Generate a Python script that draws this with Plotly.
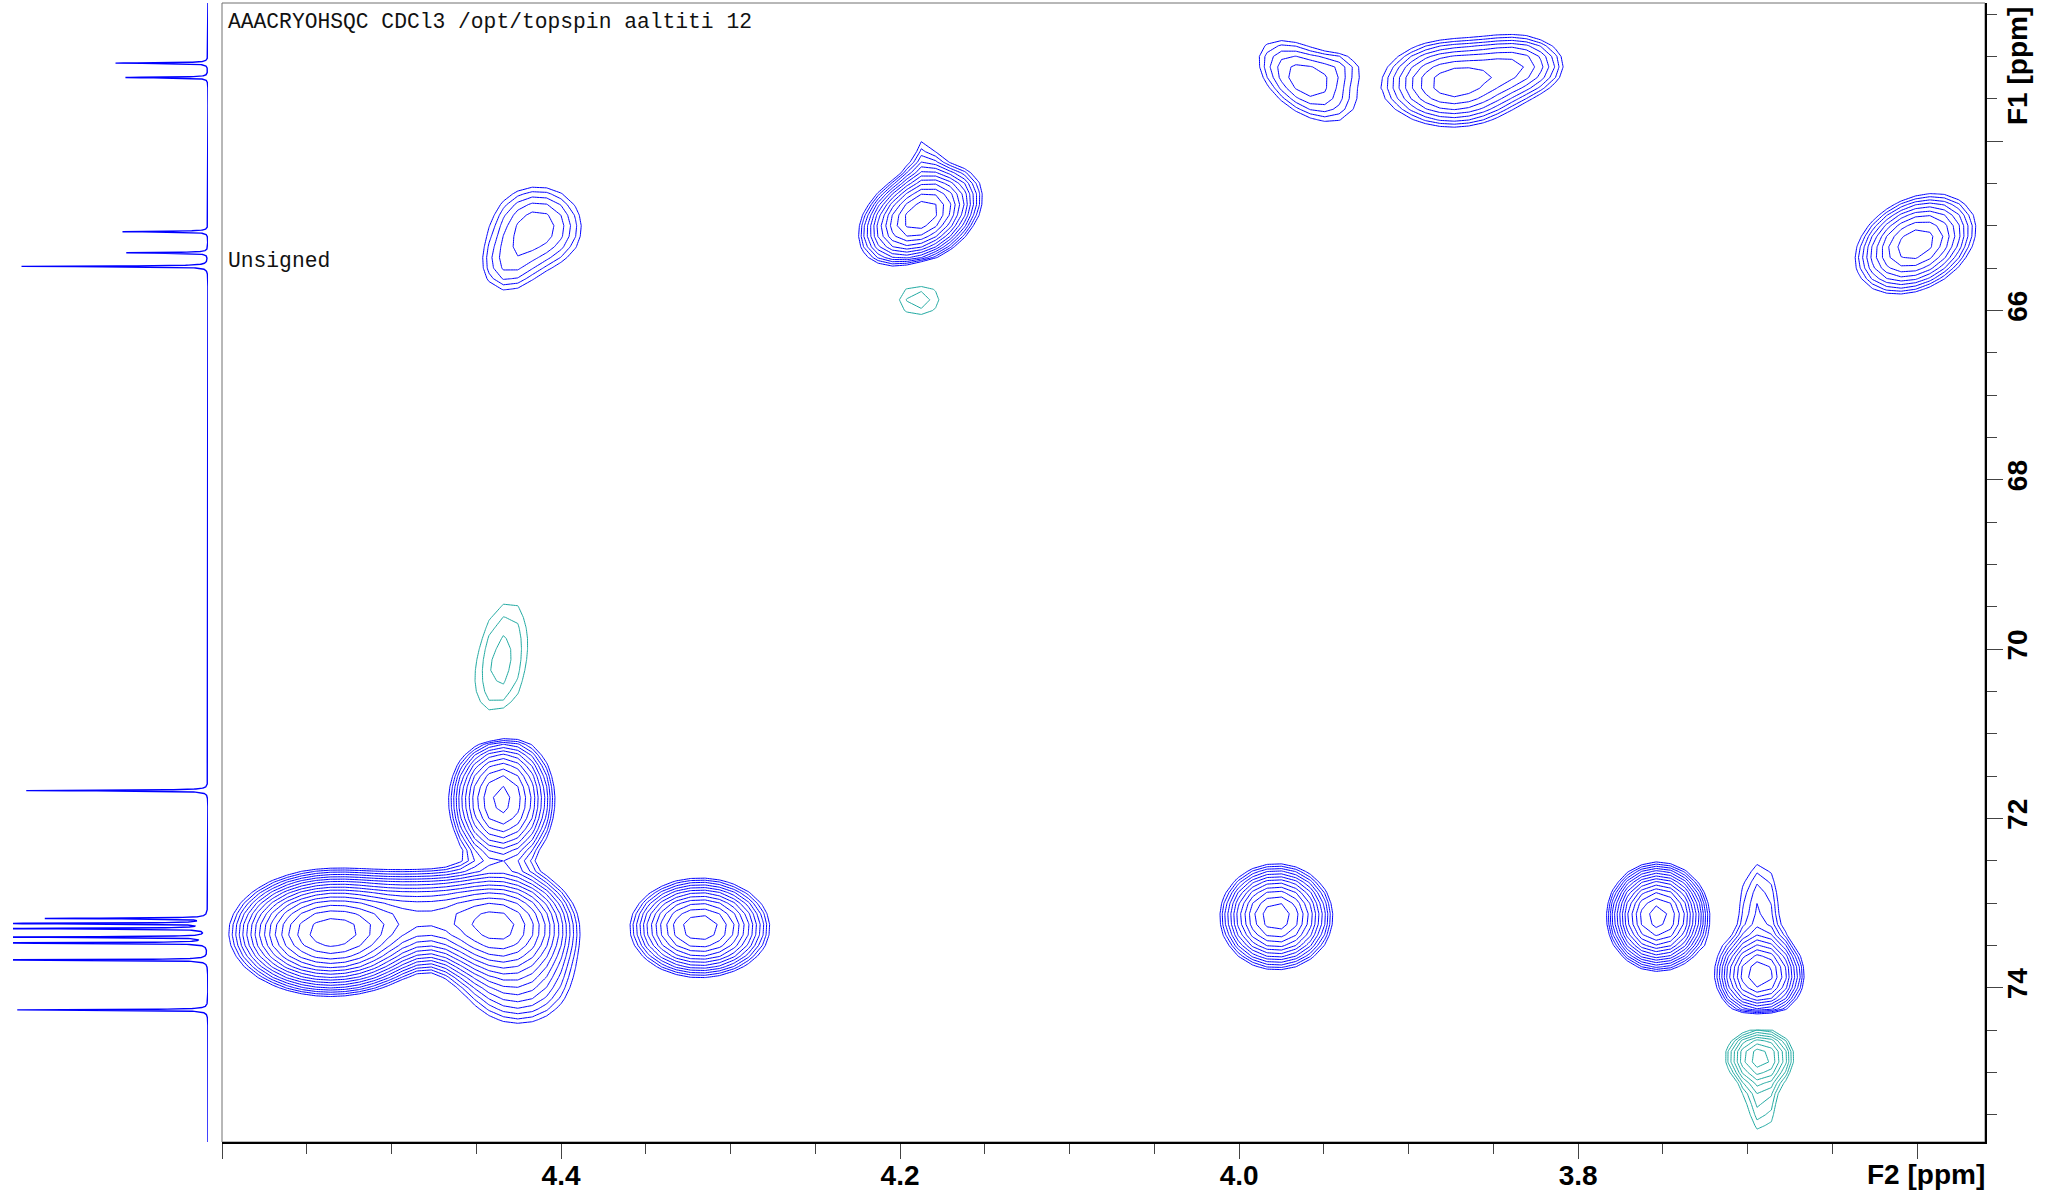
import numpy as np
import plotly.graph_objects as go

# ---- 2D HSQC cross peaks (F2 = 1H ppm, F1 = 13C ppm) ----
# centre, gaussian widths, signed amplitude (contour base level = 1), tilt
PEAK_F2 = [3.961, 3.940, 3.874, 3.835, 4.414, 4.433, 4.188, 4.186, 3.601,
           4.189, 4.435,
           4.536, 4.435, 4.436, 4.425, 4.480,
           4.318, 3.978, 3.753, 3.693, 3.693, 3.693, 3.692]
PEAK_F1 = [63.29, 63.10, 63.32, 63.10, 65.02, 65.50, 64.885, 64.30, 65.215,
           65.87, 70.145,
           73.35, 71.78, 73.28, 73.90, 73.15,
           73.29, 73.16, 73.16, 73.85, 73.10, 74.81, 75.20]
PEAK_SD2 = [0.019, 0.010, 0.022, 0.017, 0.018, 0.012, 0.016, 0.007, 0.018,
            0.0144, 0.015,
            0.0227, 0.014, 0.019, 0.020, 0.028,
            0.018, 0.0146, 0.0124, 0.0121, 0.010, 0.0115, 0.009]
PEAK_SD1 = [0.33, 0.15, 0.28, 0.22, 0.33, 0.25, 0.27, 0.35, 0.30,
            0.22, 0.66,
            0.285, 0.36, 0.30, 0.35, 0.25,
            0.257, 0.274, 0.263, 0.233, 0.48, 0.18, 0.45]
PEAK_AMP = [2.9, 1.0, 5.6, 3.2, 2.9, 1.5, 14.0, 1.4, 7.2,
            -1.45, -1.75,
            33.0, 13.0, 18.0, 3.0, 10.0,
            14.0, 14.0, 21.0, 11.0, 2.0, -4.5, -1.8]
PEAK_TILT = [-0.5, 0.0, 0.0, 0.0, 0.0, 0.0, 0.35, 0.0, 0.3,
             0.0, 0.3,
             0.0, 0.0, 0.0, 0.0, 0.0,
             0.0, 0.0, 0.0, 0.0, 0.0, 0.0, 0.0]

# ---- 13C projection shown beside the F1 axis ----
PROJ_PPM = [63.08, 63.25, 65.07, 65.32, 65.48, 71.67, 73.18, 73.24, 73.30,
            73.40, 73.47, 73.67, 74.26]
PROJ_INT = [0.477, 0.423, 0.441, 0.418, 0.962, 0.938, 0.826, 1.15, 1.15,
            1.15, 1.15, 1.15, 0.978]
PROJ_LW = 0.005

# ---- axes ----
F2_RANGE = [4.6, 3.56]
F1_RANGE = [75.82, 62.37]
F2_TICKS = [4.6, 4.4, 4.2, 4.0, 3.8, 3.6]
F2_LABELS = ["", "4.4", "4.2", "4.0", "3.8", ""]
F1_TICKS = [64, 66, 68, 70, 72, 74]
F1_LABELS = ["", "66", "68", "70", "72", "74"]

LEVEL_FACTOR = 1.25
N_LEVELS = 20

# spectrum grid (digital resolution of the processed 2D data)
f2 = np.arange(3.550, 4.612, 0.0085)
f1 = np.arange(62.25, 75.95, 0.125)
X, Y = np.meshgrid(f2, f1)
S = np.zeros_like(X)
for x0, y0, sx, sy, a, r in zip(PEAK_F2, PEAK_F1, PEAK_SD2, PEAK_SD1, PEAK_AMP, PEAK_TILT):
    u = (X - x0) / sx
    v = (Y - y0) / sy
    q = (u * u - 2 * r * u * v + v * v) / (1 - r * r)
    S += a * np.exp(-0.5 * q)

def level_index(vals):
    return np.log(np.clip(vals, 1e-9, None)) / np.log(LEVEL_FACTOR)

pos_z = level_index(S)
neg_z = level_index(-S)

BLUE = "#0000ff"
TEAL = "#1fa9a1"

def contour_trace(z, color):
    return go.Contour(
        x=f2, y=f1, z=z,
        autocontour=False,
        contours=dict(start=0, end=N_LEVELS, size=1, coloring="lines"),
        colorscale=[[0, color], [1, color]],
        line=dict(width=1, smoothing=0),
        showscale=False, hoverinfo="skip",
        xaxis="x", yaxis="y",
    )

fig = go.Figure()
fig.add_trace(contour_trace(pos_z, BLUE))
fig.add_trace(contour_trace(neg_z, TEAL))

# projection spectrum (Lorentzian lines)
py = np.arange(F1_RANGE[1] - 0.05, F1_RANGE[0] + 0.05, 0.0012)
px = np.zeros_like(py)
for c, h in zip(PROJ_PPM, PROJ_INT):
    px += h / (1 + ((py - c) / PROJ_LW) ** 2)
fig.add_trace(go.Scatter(x=px, y=py, mode="lines", xaxis="x2", yaxis="y",
                         line=dict(color=BLUE, width=1.4), hoverinfo="skip",
                         showlegend=False))

W, H = 2045, 1199
x_dom = [222 / W, 1985 / W]
y_dom = [1 - 1142 / H, 1 - 3 / H]
tickfont = dict(family="Liberation Sans, Arial, sans-serif", size=28, color="black", weight="bold")
monofont = dict(family="Liberation Mono, Courier New, monospace", size=21.3, color="#111111")

fig.update_layout(
    width=W, height=H,
    margin=dict(l=0, r=0, t=0, b=0),
    paper_bgcolor="white", plot_bgcolor="white",
    showlegend=False,
    xaxis=dict(
        domain=x_dom, range=F2_RANGE, anchor="y",
        showgrid=False, zeroline=False,
        showline=True, linecolor="black", linewidth=2,
        tickmode="array", tickvals=F2_TICKS, ticktext=F2_LABELS,
        ticks="outside", ticklen=15, tickwidth=1, tickcolor="#444",
        minor=dict(tickmode="linear", tick0=4.6, dtick=0.05, ticks="outside",
                   ticklen=10, tickwidth=1, tickcolor="#444", showgrid=False),
        tickfont=tickfont, ticklabelstandoff=-8, automargin=False,
    ),
    yaxis=dict(
        domain=y_dom, range=F1_RANGE, anchor="x", side="right",
        showgrid=False, zeroline=False,
        showline=True, linecolor="black", linewidth=1.5,
        tickmode="array", tickvals=F1_TICKS, ticktext=F1_LABELS,
        ticks="outside", ticklen=16, tickwidth=1, tickcolor="#444",
        minor=dict(tickmode="linear", tick0=62.5, dtick=0.5, ticks="outside",
                   ticklen=10, tickwidth=1, tickcolor="#444", showgrid=False),
        tickangle=-90, tickfont=tickfont, ticklabelstandoff=-9, automargin=False,
    ),
    xaxis2=dict(
        domain=[13 / W, 208 / W], range=[1.0, 0.0], anchor="y",
        visible=False, showgrid=False, zeroline=False,
    ),
    shapes=[dict(type="rect", xref="x domain", yref="y domain",
                 x0=0, x1=1, y0=0, y1=1,
                 line=dict(color="#707070", width=1), layer="below")],
    annotations=[
        dict(text="AAACRYOHSQC CDCl3 /opt/topspin aaltiti 12",
             xref="paper", yref="paper", x=226 / W, y=1 - 8 / H,
             xanchor="left", yanchor="top", showarrow=False, font=monofont),
        dict(text="Unsigned",
             xref="paper", yref="paper", x=226 / W, y=1 - 261 / H,
             xanchor="left", yanchor="middle", showarrow=False, font=monofont),
        dict(text="F2 [ppm]",
             xref="paper", yref="paper", x=1926 / W, y=1 - 1174 / H,
             xanchor="center", yanchor="middle", showarrow=False, font=tickfont),
        dict(text="F1 [ppm]",
             xref="paper", yref="paper", x=2017 / W, y=1 - 66 / H,
             xanchor="center", yanchor="middle", textangle=-90,
             showarrow=False, font=tickfont),
    ],
)

fig.write_html("out.html")
